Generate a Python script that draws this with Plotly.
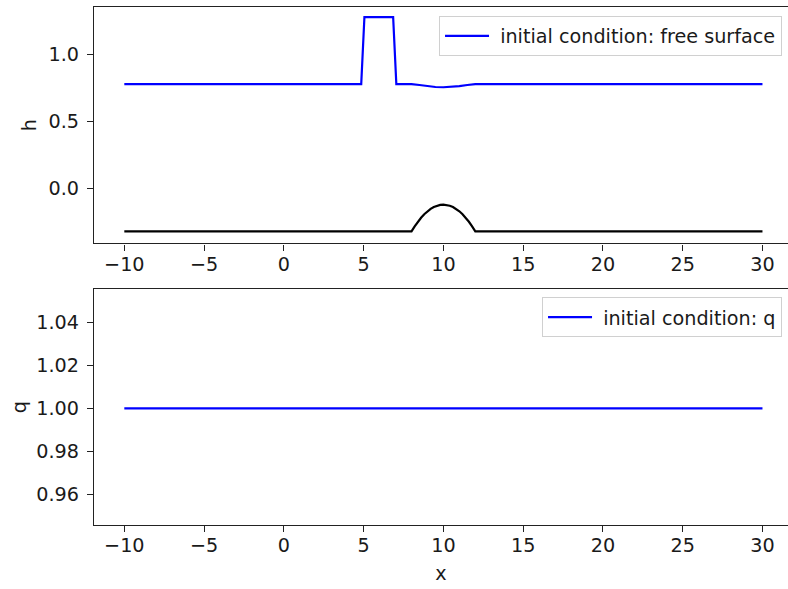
import plotly.graph_objects as go
from plotly.subplots import make_subplots

# Free surface (initial condition)
x_surface = [-10, 4.85, 5.05, 6.85, 7.05, 8.0, 8.5, 9.0, 9.5, 10.0, 10.5, 11.0, 11.5, 12.0, 30]
h_surface = [0.78, 0.78, 1.28, 1.28, 0.78, 0.78, 0.773, 0.764, 0.758, 0.756, 0.758, 0.764, 0.773, 0.78, 0.78]

# Bottom topography
x_bottom = [-10, 8.0, 8.2, 8.4, 8.6, 8.8, 9.0, 9.2, 9.4, 9.6, 9.8, 10.0,
            10.2, 10.4, 10.6, 10.8, 11.0, 11.2, 11.4, 11.6, 11.8, 12.0, 30]
z_bottom = [-0.32, -0.32, -0.282, -0.248, -0.218, -0.192, -0.17, -0.152, -0.138, -0.128, -0.122, -0.12,
            -0.122, -0.128, -0.138, -0.152, -0.17, -0.192, -0.218, -0.248, -0.282, -0.32, -0.32]

# Discharge (initial condition)
x_q = [-10, 30]
q_vals = [1.0, 1.0]

x_ticks = [-10, -5, 0, 5, 10, 15, 20, 25, 30]
h_ticks = [0.0, 0.5, 1.0]
h_ticklabels = ["0.0", "0.5", "1.0"]
q_ticks = [0.96, 0.98, 1.00, 1.02, 1.04]
q_ticklabels = ["0.96", "0.98", "1.00", "1.02", "1.04"]

FONT = "DejaVu Sans"
FS = 19.2
TXT = "#1a1a1a"
fig = make_subplots(rows=2, cols=1, vertical_spacing=0.0)

fig.add_trace(go.Scatter(x=x_surface, y=h_surface, mode="lines",
                         line=dict(color="#0000ff", width=2.2),
                         name="\u00a0initial condition: free surface", legend="legend"),
              row=1, col=1)
fig.add_trace(go.Scatter(x=x_bottom, y=z_bottom, mode="lines",
                         line=dict(color="#000000", width=2.2),
                         showlegend=False),
              row=1, col=1)
fig.add_trace(go.Scatter(x=x_q, y=q_vals, mode="lines",
                         line=dict(color="#0000ff", width=2.2),
                         name="\u00a0initial condition: q", legend="legend2"),
              row=2, col=1)

axis_common = dict(showgrid=False, zeroline=False, showline=True, linecolor="#222",
                   linewidth=1.2, ticks="outside", ticklen=6, tickwidth=1.2,
                   tickcolor="#222", tickfont=dict(family=FONT, size=FS, color=TXT))

fig.update_xaxes(**axis_common, mirror=True, range=[-11.9, 31.6], tickvals=x_ticks,
                 ticklabelstandoff=-3)
fig.update_xaxes(domain=[0, 1])
fig.update_yaxes(**axis_common)

fig.update_layout(
    yaxis=dict(domain=[0.5435, 1.0], range=[-0.41, 1.355], tickvals=h_ticks,
               ticktext=h_ticklabels, ticklabelstandoff=4,
               title=dict(text="h", font=dict(family=FONT, size=FS, color=TXT), standoff=6)),
    yaxis2=dict(domain=[0.0, 0.4548], range=[0.9457, 1.0553], tickvals=q_ticks,
                ticktext=q_ticklabels, ticklabelstandoff=4,
                title=dict(text="q", font=dict(family=FONT, size=FS, color=TXT), standoff=4)),
    xaxis2=dict(title=dict(text="x", font=dict(family=FONT, size=FS, color=TXT), standoff=10)),
    width=788, height=589,
    margin=dict(l=94, r=0, t=7, b=64),
    paper_bgcolor="white", plot_bgcolor="white",
    font=dict(family=FONT, size=FS, color=TXT),
    legend=dict(x=0.9914, y=0.983, xanchor="right", yanchor="top", itemwidth=44,
                bgcolor="rgba(255,255,255,0.8)", bordercolor="#d0d0d0", borderwidth=1,
                font=dict(family=FONT, size=FS, color=TXT)),
    legend2=dict(x=0.9914, y=0.44, xanchor="right", yanchor="top", itemwidth=44,
                 bgcolor="rgba(255,255,255,0.8)", bordercolor="#d0d0d0", borderwidth=1,
                 font=dict(family=FONT, size=FS, color=TXT)),
)

fig.write_html("out.html")
